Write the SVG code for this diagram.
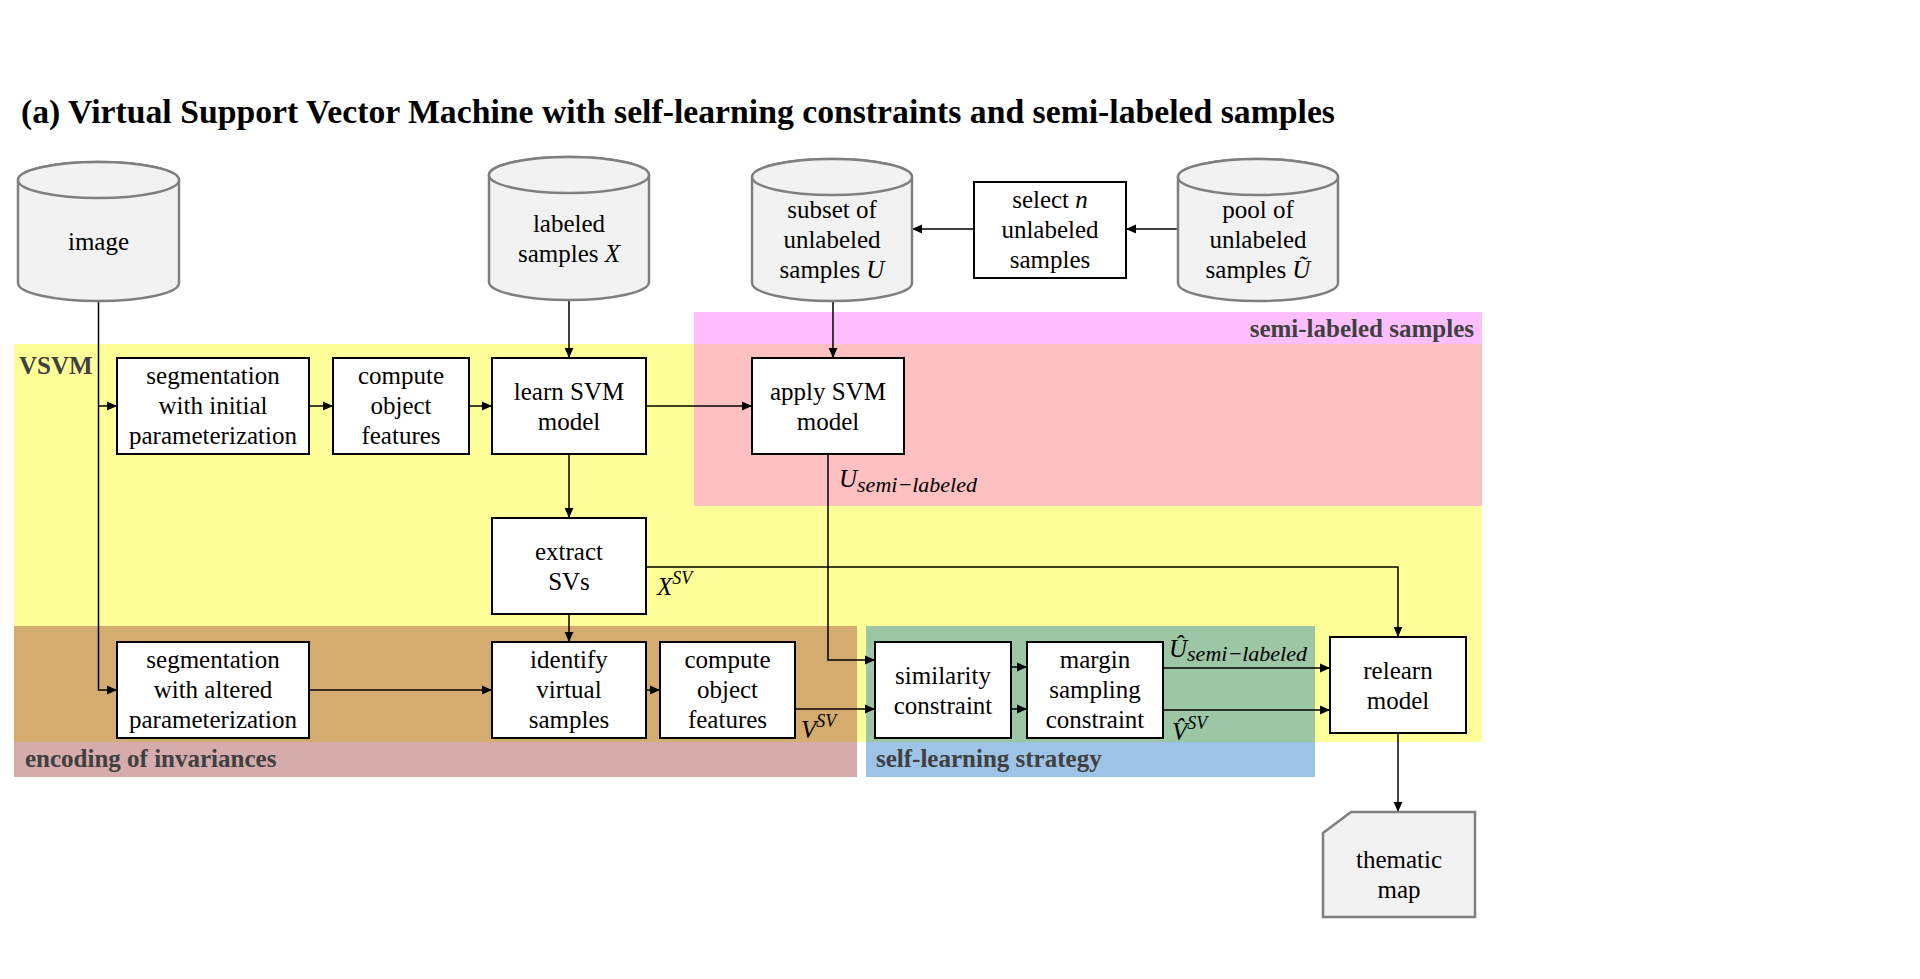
<svg xmlns="http://www.w3.org/2000/svg" width="1920" height="979" viewBox="0 0 1920 979">
<style>
.box{fill:#fff;stroke:#000;stroke-width:2}
.cyl{fill:#F2F2F2;stroke:#7F7F7F;stroke-width:2.5}
.t{font-family:"Liberation Serif","Times New Roman",serif;font-size:25px;text-anchor:middle;fill:#000}
.lbl{font-family:"Liberation Serif","Times New Roman",serif;font-size:25px;font-weight:bold;fill:#404040}
.m{font-family:"Liberation Serif","Times New Roman",serif;font-style:italic;font-size:25px;fill:#000}
.sub{font-size:22px}
.sup{font-size:18px}
.i{font-style:italic}
.c{fill:none;stroke:#000;stroke-width:1.5;marker-end:url(#ah)}
</style>
<defs>
<marker id="ah" markerUnits="userSpaceOnUse" markerWidth="12" markerHeight="10" refX="10" refY="5" orient="auto">
<path d="M0,0.6 L10,5 L0,9.4 Z" fill="#000"/>
</marker>
</defs>
<rect width="1920" height="979" fill="#fff"/>
<text x="21" y="123" font-family="Liberation Serif,Times New Roman,serif" font-size="33.5" font-weight="bold" fill="#000" textLength="1314" lengthAdjust="spacingAndGlyphs">(a) Virtual Support Vector Machine with self-learning constraints and semi-labeled samples</text>

<g id="regions">
<rect x="694" y="312" width="788" height="33" fill="#FFBFFF"/>
<rect x="14" y="344" width="1468" height="398" fill="#FFFF99"/>
<rect x="694" y="344" width="788" height="162" fill="#FEC0C0"/>
<rect x="14" y="626" width="843" height="116" fill="#D5AC6F"/>
<rect x="14" y="742" width="843" height="35" fill="#D5ABAB"/>
<rect x="866" y="626" width="449" height="116" fill="#9CC6A6"/>
<rect x="866" y="742" width="449" height="35" fill="#9DC3E6"/>
<text class="lbl" x="1474" y="337" text-anchor="end">semi-labeled samples</text>
<text class="lbl" x="19" y="374">VSVM</text>
<text class="lbl" x="25" y="767">encoding of invariances</text>
<text class="lbl" x="876" y="767">self-learning strategy</text>
</g>

<g id="connectors">
<path class="c" d="M98.5,301 V690 H117"/>
<path class="c" d="M98.5,406 H117"/>
<path class="c" d="M309,406 H333"/>
<path class="c" d="M469,406 H492"/>
<path class="c" d="M569,300 V358"/>
<path class="c" d="M646,406 H752"/>
<path class="c" d="M833,301 V358"/>
<path class="c" d="M569,454 V518"/>
<path class="c" d="M569,614 V642"/>
<path class="c" d="M646,567 H1398 V637"/>
<path class="c" d="M309,690 H492"/>
<path class="c" d="M646,690 H660"/>
<path class="c" d="M795,709 H875"/>
<path class="c" d="M828,454 V660 H875"/>
<path class="c" d="M1011,667 H1027"/>
<path class="c" d="M1011,709 H1027"/>
<path class="c" d="M1163,668 H1330"/>
<path class="c" d="M1163,710 H1330"/>
<path class="c" d="M1398,733 V812"/>
<path class="c" d="M1178,229 H1126"/>
<path class="c" d="M974,229 H912"/>
<text class="m" x="839" y="487">U<tspan class="sub" dy="5">semi−labeled</tspan></text>
<text class="m" x="657" y="595" font-size="27">X<tspan class="sup" dy="-11">SV</tspan></text>
<text class="m" x="801" y="738">V<tspan class="sup" dy="-11">SV</tspan></text>
<text class="m" x="1169" y="657">Û<tspan class="sub" dy="4">semi−labeled</tspan></text>
<text class="m" x="1172" y="740">V̂<tspan class="sup" dy="-11">SV</tspan></text>
</g>

<g id="image">
<path class="cyl" d="M18,180 V283 A80.5,18 0 0 0 179,283 V180 A80.5,18 0 0 0 18,180 Z"/>
<ellipse class="cyl" cx="98.5" cy="180" rx="80.5" ry="18"/>
<text class="t" x="98.5" y="250">image</text>
</g>
<g id="labeled">
<path class="cyl" d="M489,175 V282 A80,18 0 0 0 649,282 V175 A80,18 0 0 0 489,175 Z"/>
<ellipse class="cyl" cx="569" cy="175" rx="80" ry="18"/>
<text class="t" x="569" y="232">labeled</text>
<text class="t" x="569" y="262">samples <tspan class="i">X</tspan></text>
</g>
<g id="subset">
<path class="cyl" d="M752,177 V283 A80,18 0 0 0 912,283 V177 A80,18 0 0 0 752,177 Z"/>
<ellipse class="cyl" cx="832" cy="177" rx="80" ry="18"/>
<text class="t" x="832" y="218">subset of</text>
<text class="t" x="832" y="248">unlabeled</text>
<text class="t" x="832" y="278">samples <tspan class="i">U</tspan></text>
</g>
<g id="select">
<rect class="box" x="974" y="182" width="152" height="96"/>
<text class="t" x="1050" y="208">select <tspan class="i">n</tspan></text>
<text class="t" x="1050" y="238">unlabeled</text>
<text class="t" x="1050" y="268">samples</text>
</g>
<g id="pool">
<path class="cyl" d="M1178,177 V283 A80,18 0 0 0 1338,283 V177 A80,18 0 0 0 1178,177 Z"/>
<ellipse class="cyl" cx="1258" cy="177" rx="80" ry="18"/>
<text class="t" x="1258" y="218">pool of</text>
<text class="t" x="1258" y="248">unlabeled</text>
<text class="t" x="1258" y="278">samples <tspan class="i">Ũ</tspan></text>
</g>

<g id="segInit">
<rect class="box" x="117" y="358" width="192" height="96"/>
<text class="t" x="213" y="384">segmentation</text>
<text class="t" x="213" y="414">with initial</text>
<text class="t" x="213" y="444">parameterization</text>
</g>
<g id="compute1">
<rect class="box" x="333" y="358" width="136" height="96"/>
<text class="t" x="401" y="384">compute</text>
<text class="t" x="401" y="414">object</text>
<text class="t" x="401" y="444">features</text>
</g>
<g id="learn">
<rect class="box" x="492" y="358" width="154" height="96"/>
<text class="t" x="569" y="400">learn SVM</text>
<text class="t" x="569" y="430">model</text>
</g>
<g id="apply">
<rect class="box" x="752" y="358" width="152" height="96"/>
<text class="t" x="828" y="400">apply SVM</text>
<text class="t" x="828" y="430">model</text>
</g>
<g id="extract">
<rect class="box" x="492" y="518" width="154" height="96"/>
<text class="t" x="569" y="560">extract</text>
<text class="t" x="569" y="590">SVs</text>
</g>
<g id="segAlt">
<rect class="box" x="117" y="642" width="192" height="96"/>
<text class="t" x="213" y="668">segmentation</text>
<text class="t" x="213" y="698">with altered</text>
<text class="t" x="213" y="728">parameterization</text>
</g>
<g id="identify">
<rect class="box" x="492" y="642" width="154" height="96"/>
<text class="t" x="569" y="668">identify</text>
<text class="t" x="569" y="698">virtual</text>
<text class="t" x="569" y="728">samples</text>
</g>
<g id="compute2">
<rect class="box" x="660" y="642" width="135" height="96"/>
<text class="t" x="727.5" y="668">compute</text>
<text class="t" x="727.5" y="698">object</text>
<text class="t" x="727.5" y="728">features</text>
</g>
<g id="similarity">
<rect class="box" x="875" y="642" width="136" height="96"/>
<text class="t" x="943" y="684">similarity</text>
<text class="t" x="943" y="714">constraint</text>
</g>
<g id="margin">
<rect class="box" x="1027" y="642" width="136" height="96"/>
<text class="t" x="1095" y="668">margin</text>
<text class="t" x="1095" y="698">sampling</text>
<text class="t" x="1095" y="728">constraint</text>
</g>
<g id="relearn">
<rect class="box" x="1330" y="637" width="136" height="96"/>
<text class="t" x="1398" y="679">relearn</text>
<text class="t" x="1398" y="709">model</text>
</g>
<g id="thematic">
<polygon class="cyl" points="1323,833 1351,812 1475,812 1475,917 1323,917"/>
<text class="t" x="1399" y="868">thematic</text>
<text class="t" x="1399" y="898">map</text>
</g>
</svg>
